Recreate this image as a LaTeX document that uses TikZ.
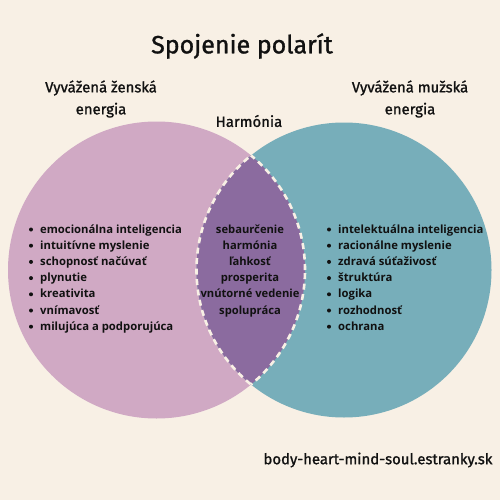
\documentclass[tikz,border=0pt]{standalone}
\usepackage{fontspec}
\setmainfont{Open Sans}
\newfontfamily\headfont{Fira Sans}[FakeBold=1.2]
\definecolor{bg}{HTML}{F8F0E5}
\definecolor{pinkc}{HTML}{D0A9C4}
\definecolor{tealc}{HTML}{77AEBA}
\definecolor{lensc}{HTML}{8B6B9F}
\definecolor{ink}{HTML}{111111}
\begin{document}
\begin{tikzpicture}[x=1pt,y=-1pt,
  txt/.style={inner sep=0pt,text=ink,font=\headfont\fontsize{14.9}{22}\selectfont,align=center},
  item/.style={inner sep=0pt,text=ink,anchor=base west,font=\bfseries\fontsize{11.3}{13}\selectfont},
  mid/.style={inner sep=0pt,text=ink,anchor=base,font=\bfseries\fontsize{11.2}{13}\selectfont},
  bul/.style={circle,fill=ink,inner sep=0pt,minimum size=4pt},
  lensline/.style={draw=bg,line width=2.6pt,dash pattern=on 6pt off 4.5pt}]
\fill[bg] (0,0) rectangle (500,500);
\useasboundingbox (0,0) rectangle (500,500);
% circles
\node[circle,fill=pinkc,minimum size=297pt,inner sep=0pt] (L) at (156.5,270) {};
\node[circle,fill=tealc,minimum size=295pt,inner sep=0pt] (R) at (344,270) {};
\begin{scope}
  \clip (156.5,270) circle[radius=148.5pt];
  \fill[lensc] (344,270) circle[radius=147.5pt];
  \draw[lensline] (344,270) circle[radius=147.5pt];
\end{scope}
\begin{scope}
  \clip (344,270) circle[radius=147.5pt];
  \draw[lensline] (156.5,270) circle[radius=148.5pt];
\end{scope}
% titles
\node[txt,font=\headfont\fontsize{25}{30}\selectfont] (title) at (242,46) {Spojenie polarít};
\node[txt] (lt) at (101,99) {Vyvážená ženská\\energia};
\node[txt] (rt) at (410,99) {Vyvážená mužská\\energia};
\node[txt] (h) at (249,121) {Harmónia};
% left list
\foreach \t [count=\i] in {emocionálna inteligencia,intuitívne myslenie,schopnosť načúvať,plynutie,kreativita,vnímavosť,milujúca a podporujúca}{
  \node[item] (l\i) at (40,{233+16.2*(\i-1)}) {\t};
  \node[bul] (lb\i) at (31,{229.5+16.2*(\i-1)}) {};
}
% middle list
\foreach \t [count=\i] in {sebaurčenie,harmónia,ľahkosť,prosperita,vnútorné vedenie,spolupráca}{
  \node[mid] (m\i) at (250,{233+16.2*(\i-1)}) {\t};
}
% right list
\foreach \t [count=\i] in {intelektuálna inteligencia,racionálne myslenie,zdravá súťaživosť,štruktúra,logika,rozhodnosť,ochrana}{
  \node[item] (r\i) at (338,{233+16.2*(\i-1)}) {\t};
  \node[bul] (rb\i) at (329,{229.5+16.2*(\i-1)}) {};
}
\node[txt] (url) at (378,460) {body-heart-mind-soul.estranky.sk};
\end{tikzpicture}
\end{document}
